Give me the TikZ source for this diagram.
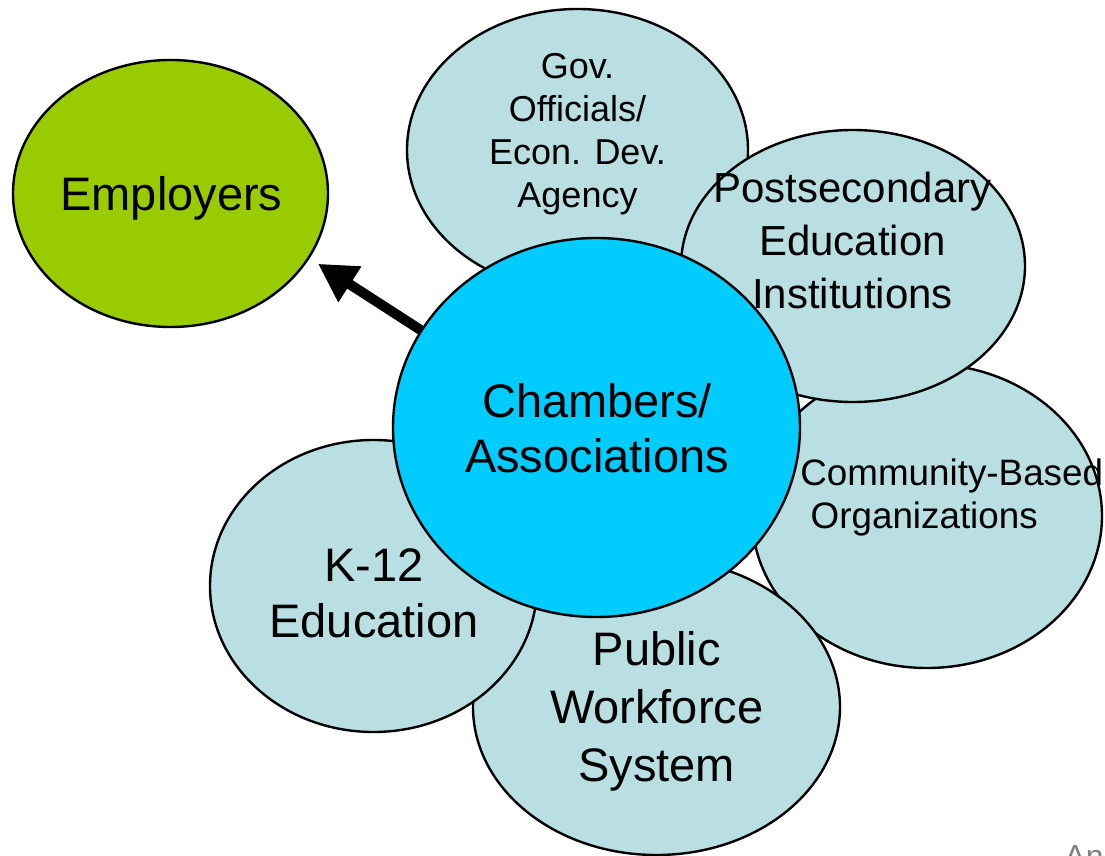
\documentclass[tikz,border=0pt]{standalone}
\usepackage{fontspec}
\setmainfont{Liberation Sans}
\usetikzlibrary{shapes.geometric,arrows.meta}
\definecolor{paleblue}{RGB}{185,223,227}
\definecolor{skyblue}{RGB}{0,204,255}
\definecolor{limegreen}{RGB}{153,204,0}
\tikzset{
  oval/.style 2 args={ellipse, draw=black, line width=1.2pt, inner sep=0pt, minimum width=#1pt, minimum height=#2pt},
  partner/.style={fill=paleblue},
  biglabel/.style={align=center, inner sep=0pt, font=\fontsize{23.5}{28}\selectfont},
  smalllabel/.style={align=center, inner sep=0pt, font=\fontsize{18}{21.6}\selectfont},
}
\begin{document}
\begin{tikzpicture}[x=0.5pt,y=-0.5pt]
\clip (0,0) rectangle (1105,856);

 % ovals
\node[oval={157.5}{133.5}, fill=limegreen] (employers) at (170.5,193.5) {};
\node[oval={170.5}{141}, partner] (gov) at (577.5,150) {};
\node[oval={175}{152}, partner] (community) at (927,516) {};
\node[oval={172}{136}, partner] (postsec) at (853,266) {};
\node[oval={183.5}{148}, partner] (workforce) at (656.5,707) {};
\node[oval={163.5}{146}, partner] (kedu) at (373.5,586) {};
\node[oval={203.5}{189.5}, fill=skyblue] (chambers) at (596.5,427.5) {};

 % arrow
\draw[line width=5pt, -{Triangle[length=19pt,width=20pt]}, shorten >=5pt] (chambers.151) -- (employers.-25.5);

 % labels
\node[biglabel] (employerslabel) at (171.5,198) {Employers};
\node[smalllabel] (govlabel) at (577.5,134) {Gov.\\Officials/\\Econ. Dev.\\Agency};
\node[biglabel, font=\fontsize{21}{26.5}\selectfont] (postseclabel) at (852.5,240) {Postsecondary\\Education\\Institutions};
\node[smalllabel, align=left, anchor=west, font=\fontsize{18.4}{21.5}\selectfont] (communitylabel) at (800,497) {Community-Based\\\hspace*{.28em}Organizations};
\node[biglabel, font=\fontsize{23.5}{27.5}\selectfont] (chamberslabel) at (597,428) {Chambers/\\Associations};
\node[biglabel] (kedulabel) at (374,593) {K-12\\Education};
\node[biglabel, font=\fontsize{23.5}{29}\selectfont] (workforcelabel) at (656.7,711.5) {Public\\Workforce\\System};
\node[anchor=north west, inner sep=0pt, text=gray, font=\fontsize{16}{19}\selectfont] (footer) at (1064,845) {An};
\end{tikzpicture}
\end{document}
